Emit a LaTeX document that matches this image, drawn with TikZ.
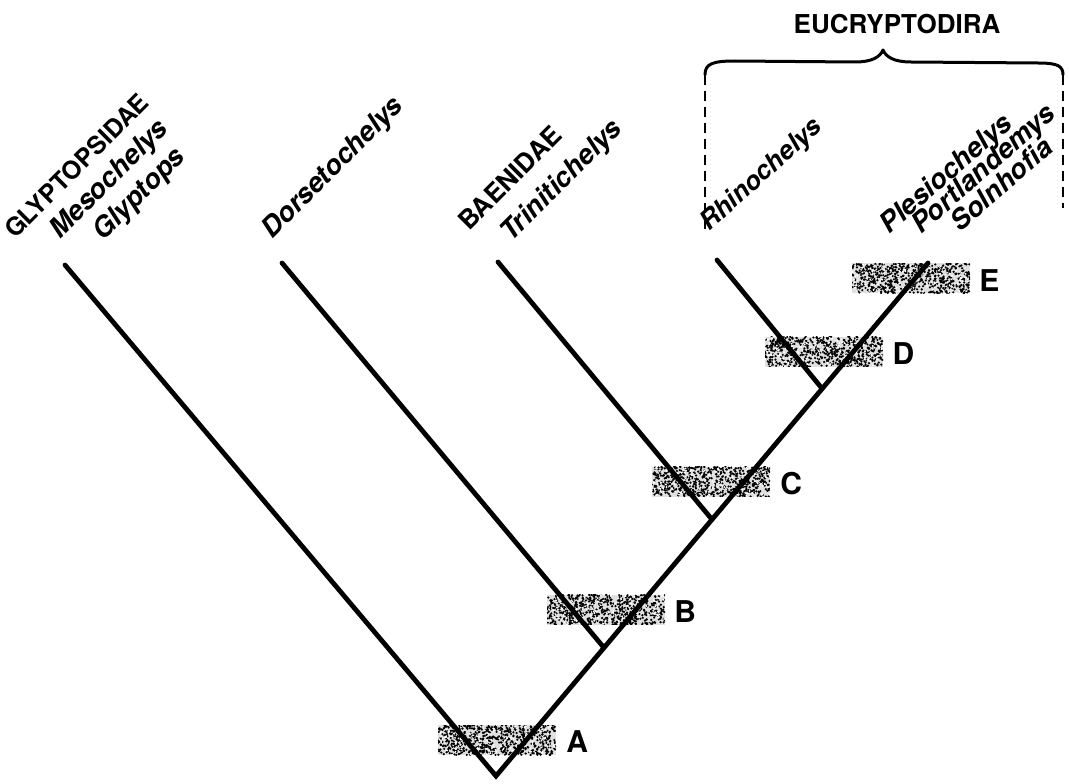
\documentclass[tikz,border=0pt]{standalone}
\usepackage{fontspec}
\setmainfont{TeX Gyre Heros}
\usetikzlibrary{calc}
\begin{document}
\begin{tikzpicture}[x=1pt,y=-1pt,
  branch/.style={line width=4.8pt, line cap=round, line join=miter, miter limit=20},
  taxon/.style={anchor=base west, rotate=45, inner sep=0pt, font=\fontsize{27.5}{30}\selectfont\bfseries\itshape},
  grp/.style={anchor=base west, rotate=45, inner sep=0pt, font=\fontsize{25}{30}\selectfont\bfseries},
  stip/.style={minimum width=118pt, minimum height=30pt, inner sep=0pt, fill=black!12,
    path picture={\foreach \k in {1,...,620}{\fill[black] ([shift={(rnd*118,rnd*30)}]path picture bounding box.north west) circle (1.2pt);}
                  \foreach \k in {1,...,140}{\fill[white] ([shift={(rnd*118,rnd*30)}]path picture bounding box.north west) circle (1.0pt);}}},
  nlab/.style={anchor=west, inner sep=0pt, font=\fontsize{30}{36}\selectfont\bfseries},
  dash line/.style={line width=1.8pt, dash pattern=on 10pt off 6pt},
  bracestyle/.style={line width=3pt, line join=round}]
\useasboundingbox (0,0) rectangle (1069,784);
\pgfmathsetseed{7}
% branch points
\coordinate (root) at (496,776);
\coordinate (tipG) at (65,265);
\coordinate (tipD) at (282,263);
\coordinate (tipT) at (498,262);
\coordinate (tipR) at (717,260);
\coordinate (tipE) at (928,263);
\coordinate (nB) at ($(root)!0.25!(tipE)$);
\coordinate (nC) at ($(root)!0.5!(tipE)$);
\coordinate (nD) at ($(root)!0.755!(tipE)$);
% stippled bars
\node[stip] (bA) at ($(root)+(1,-36)$) {};
\node[stip] (bB) at ($(nB)+(2,-38)$) {};
\node[stip] (bC) at ($(nC)+(-1,-38)$) {};
\node[stip] (bD) at ($(nD)+(2,-37)$) {};
\node[stip] (bE) at ($(root)!0.97!(tipE)+(-4,0)$) {};
\node[nlab] (lA) at ([xshift=10pt,yshift=-2pt]bA.east) {A};
\node[nlab] (lB) at ([xshift=9pt,yshift=-2pt]bB.east) {B};
\node[nlab] (lC) at ([xshift=10pt,yshift=-2pt]bC.east) {C};
\node[nlab] (lD) at ([xshift=9pt,yshift=-2pt]bD.east) {D};
\node[nlab] (lE) at ([xshift=9pt,yshift=-2pt]bE.east) {E};
% tree
\draw[branch] (tipG) -- (root) -- (tipE);
\draw[branch] (tipD) -- (nB);
\draw[branch] (tipT) -- (nC);
\draw[branch] (tipR) -- (nD);
% taxon labels
\node[grp] (glyp) at (15,240) {GLYPTOPSIDAE};
\node[taxon] (meso) at (60,240) {Mesochelys};
\node[taxon] (glyt) at (103,242) {Glyptops};
\node[taxon] (dors) at (272,240) {Dorsetochelys};
\node[grp, font=\fontsize{26}{30}\selectfont\bfseries] (baen) at (469,232) {BAENIDAE};
\node[taxon] (trin) at (511,243) {Trinitichelys};
\node[taxon, rotate=-3, font=\fontsize{26}{30}\selectfont\bfseries\itshape] (rhin) at (709,232) {Rhinochelys};
\node[taxon, rotate=-4] (ples) at (889,235) {Plesiochelys};
\node[taxon, rotate=-4] (port) at (921,235) {Portlandemys};
\node[taxon, rotate=-4] (soln) at (960,233) {Solnhofia};
% Eucryptodira brace
\coordinate (braceL) at (705,75);
\coordinate (braceR) at (1063,75);
\coordinate (braceTip) at (883,50);
\coordinate (dashLend) at (705,233);
\coordinate (dashRend) at (1063,208);
\draw[bracestyle] (braceL) .. controls (705,64) and (712,61) .. (735,61) -- (855,62)
  .. controls (872,62) and (880,57) .. (braceTip)
  .. controls (886,57) and (894,62) .. (911,62) -- (1038,63)
  .. controls (1058,63) and (1063,66) .. (braceR);
\draw[dash line] (braceL) -- (dashLend);
\draw[dash line] (braceR) -- (dashRend);
\node[font=\fontsize{26}{30}\selectfont\bfseries, inner sep=0pt] (eu) at (897,24) {EUCRYPTODIRA};
\end{tikzpicture}
\end{document}
